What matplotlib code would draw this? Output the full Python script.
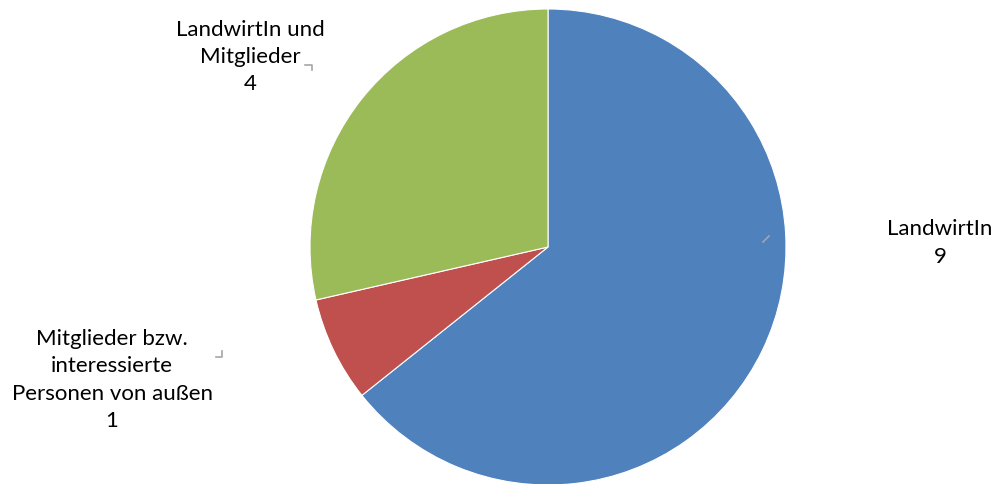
import matplotlib
matplotlib.use("Agg")
import matplotlib.pyplot as plt

labels = ["LandwirtIn", "Mitglieder bzw.\ninteressierte\nPersonen von außen", "LandwirtIn und\nMitglieder"]
values = [9, 1, 4]
colors = ["#4F81BD", "#C0504D", "#9BBB59"]

W, H = 997, 485
fig = plt.figure(figsize=(W / 100, H / 100), dpi=100)
ax = fig.add_axes([0, 0, 1, 1])

cx, cy, r = 548, H - 248, 238
ax.pie(values, colors=colors, startangle=90, counterclock=False,
       center=(cx, cy), radius=r, frame=True,
       wedgeprops=dict(edgecolor="white", linewidth=0.8))
ax.set_xlim(0, W)
ax.set_ylim(0, H)
ax.set_aspect("equal")
ax.axis("off")

font = dict(family=["Lato", "DejaVu Sans"], fontsize=16, color="black",
            ha="center", va="center", linespacing=1.45)
label_pos = [(940, H - 243), (112, H - 380), (250, H - 57)]
for lab, v, (x, y) in zip(labels, values, label_pos):
    ax.text(x, y, f"{lab}\n{v}", **font)

# leader marks
lc = "#A6A6A6"
ax.plot([763, 769], [H - 243, H - 237], color=lc, lw=1.2)
ax.plot([305, 312, 312], [H - 66, H - 66, H - 71], color=lc, lw=1.2)
ax.plot([222, 222, 216], [H - 352, H - 358, H - 358], color=lc, lw=1.2)

fig.savefig("out.png", dpi=100)
